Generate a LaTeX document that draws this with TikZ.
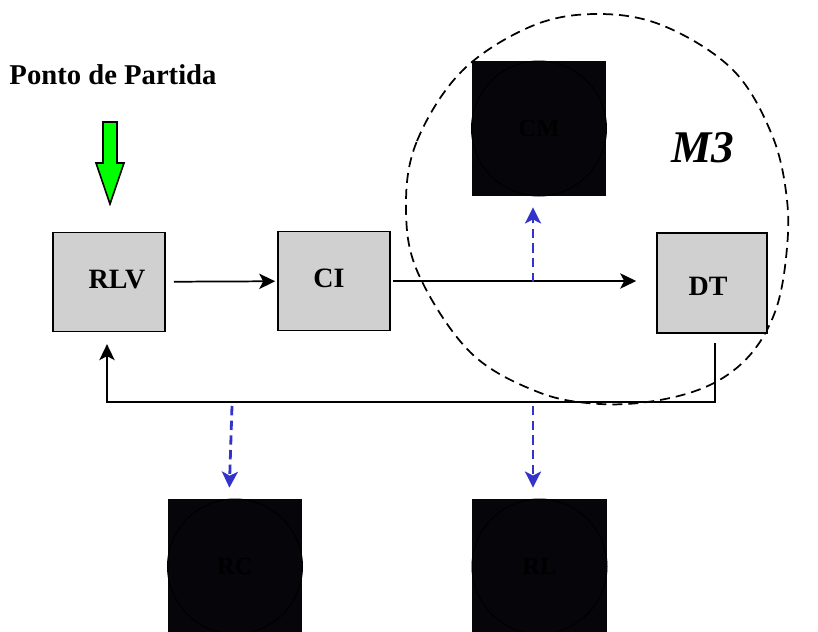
\documentclass[tikz,border=0pt]{standalone}
\usepackage{fontspec}
\setmainfont{Liberation Serif}
\usetikzlibrary{arrows.meta}
\definecolor{boxgray}{HTML}{D0D0D0}
\definecolor{linkblue}{HTML}{3333CC}
\definecolor{startgreen}{HTML}{00FF00}
\definecolor{nightfill}{HTML}{06060A}
\tikzset{
  px/.style={x=0.75pt,y=-0.75pt},
  procbox/.style={draw=black, line width=1.2pt, fill=boxgray,
    minimum width=84pt, minimum height=74pt, inner sep=0pt},
  boxlabel/.style={inner sep=0pt, font=\fontsize{21}{24}\selectfont\bfseries},
  darkbox/.style={fill=nightfill, minimum size=101pt, inner sep=0pt,
    text=black, font=\fontsize{18.5}{20}\selectfont\bfseries},
  darkring/.style={draw=black, line width=0.8pt},
  flow/.style={draw=black, line width=1.3pt, -{Stealth[length=12pt,width=11.5pt,inset=3pt]}},
  link/.style={draw=linkblue, line width=2.1pt, dash pattern=on 7pt off 4pt,
    -{Stealth[length=12pt,width=12pt,inset=3pt]}},
  zone/.style={draw=black, line width=1.3pt, dash pattern=on 7.5pt off 4.5pt},
}
\begin{document}
\begin{tikzpicture}[px]
  \clip (0,0) rectangle (818,632);
  \fill[white] (0,0) rectangle (818,632);

  % starting point label and green arrow
  \node[font=\fontsize{21.5}{24}\selectfont\bfseries] (start) at (113,75) {Ponto de Partida};
  \filldraw[fill=startgreen, draw=black, line width=1.2pt]
    (103,122) -- (117,122) -- (117,163) -- (124,163) -- (110,204)
    -- (96,163) -- (103,163) -- cycle;

  % dark boxes with inscribed rings
  \node[darkbox] (cm) at (539,128.5) {CM};
  \draw[darkring] (cm.center) circle[radius=50.6pt];
  \node[darkbox] (rc) at (235,566.5) {RC};
  \draw[darkring] (rc.center) circle[radius=50.6pt];
  \node[darkbox] (rl) at (539.5,566.5) {RL};
  \draw[darkring] (rl.center) circle[radius=50.6pt];

  % dashed zone M3
  \draw[zone] plot[smooth cycle, tension=0.6] coordinates {
    (406,207) (417,141) (462,71) (532,26) (598,14) (664,26) (733,70)
    (772,135) (787,200) (786,258) (775,312) (750,355) (712,384)
    (660,400) (600,404) (538,392) (470,352) (418,273)};
  \node[font=\fontsize{34}{36}\selectfont\bfseries\itshape] (m3) at (703,148) {M3};

  % process boxes
  \node[procbox] (rlv) at (109,282) {};
  \node[boxlabel] (rlvlabel) at (117,280) {RLV};
  \node[procbox] (ci) at (334,281) {};
  \node[boxlabel] (cilabel) at (329,278) {CI};
  \node[procbox, minimum width=82.5pt, minimum height=75pt] (dt) at (712,283) {};
  \node[boxlabel] (dtlabel) at (708,286) {DT};

  % main flow
  \draw[flow, shorten <=6pt, shorten >=1.5pt] (rlv) -- (ci);
  \draw[flow, shorten <=1.5pt, shorten >=15pt] (ci.east) -- (ci.east -| dt.west);

  % feedback loop
  \coordinate (fbR) at (715,402);
  \coordinate (fbL) at (107,402);
  \draw[flow, shorten <=7pt, shorten >=9pt]
    (dt.south -| fbR) -- (fbR) -- (fbL) -- (fbL |- rlv.south);

  % dashed links
  \coordinate (upfoot) at (533,282);
  \draw[link, shorten >=8.5pt] (upfoot) -- (upfoot |- cm.south);
  \coordinate (rcfoot) at (232,406);
  \coordinate (rctop) at (229,499);
  \draw[link, shorten >=8.5pt] (rcfoot) -- (rctop);
  \coordinate (rlfoot) at (533,406);
  \draw[link, shorten >=8.5pt] (rlfoot) -- (rlfoot |- rl.north);
\end{tikzpicture}
\end{document}
